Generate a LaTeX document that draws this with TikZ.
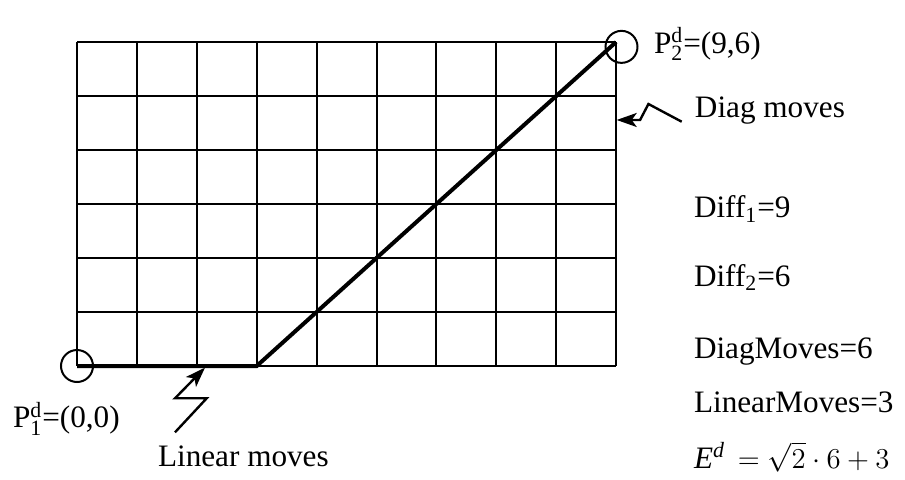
\documentclass[tikz,border=0pt]{standalone}
\usepackage{fontspec}
\setmainfont{Liberation Serif}
\usetikzlibrary{arrows.meta}
\tikzset{
  endpt/.style={circle, draw, line width=1pt, minimum size=16pt, inner sep=0pt},
  lbl/.style={anchor=base west, inner sep=0pt, font=\fontsize{15.6}{18}\selectfont},
  bolt/.style={line width=1.2pt, -{Stealth[length=10pt, width=7pt, inset=2.5pt]}},
  route/.style={line width=2pt, line join=miter}
}

\begin{document}
\begin{tikzpicture}[x=29.95pt, y=27pt, line width=1pt]
  \useasboundingbox (-1.2855,-2.093) rectangle (13.823,6.778);
  % grid of cells
  \foreach \i in {0,...,9} \draw (\i,0) -- (\i,6);
  \foreach \j in {0,...,6} \draw (0,\j) -- (9,\j);
  % start and end points
  \node[endpt] (p1) at (0,0) {};
  \node[endpt] (p2) at (9.09,5.91) {};
  \coordinate (turn) at (3,0);
  \coordinate (goal) at (9,6);
  \draw[route] (p1.center) -- (turn) -- (goal);
  \node[lbl] (p1lbl) at (-1.085,-1.148) {P$^{\mathrm{d}}_{\mathrm{1}}$=(0,0)};
  \node[lbl] (p2lbl) at (9.616,5.796) {P$^{\mathrm{d}}_{\mathrm{2}}$=(9,6)};
  % kinds of moves
  \node[lbl] (diag) at (10.30,4.593) {Diag moves};
  \coordinate (dtail) at (10.095,4.524);
  \coordinate (dtip) at (9.01,4.556);
  \draw[bolt] (dtail) -- (9.54,4.852) -- (9.40,4.556) -- (dtip);
  \node[lbl] (lin) at (1.336,-1.852) {Linear moves};
  \coordinate (ltail) at (1.636,-1.228);
  \coordinate (ltip) at (2.137,-0.03);
  \draw[bolt] (ltail) -- (2.165,-0.598) -- (1.636,-0.598) -- (ltip);
  % counts
  \node[lbl] (diff1) at (10.284,2.741) {Diff\textsubscript{1}=9};
  \node[lbl] (diff2) at (10.284,1.481) {Diff\textsubscript{2}=6};
  \node[lbl] (dmoves) at (10.284,0.148) {DiagMoves=6};
  \node[lbl] (lmoves) at (10.284,-0.870) {LinearMoves=3};
  \node[lbl] (cost) at (10.284,-1.890) {$\mathit{E}^{\mathit{d}} \,= \sqrt{2}\cdot 6+3$};
\end{tikzpicture}
\end{document}
